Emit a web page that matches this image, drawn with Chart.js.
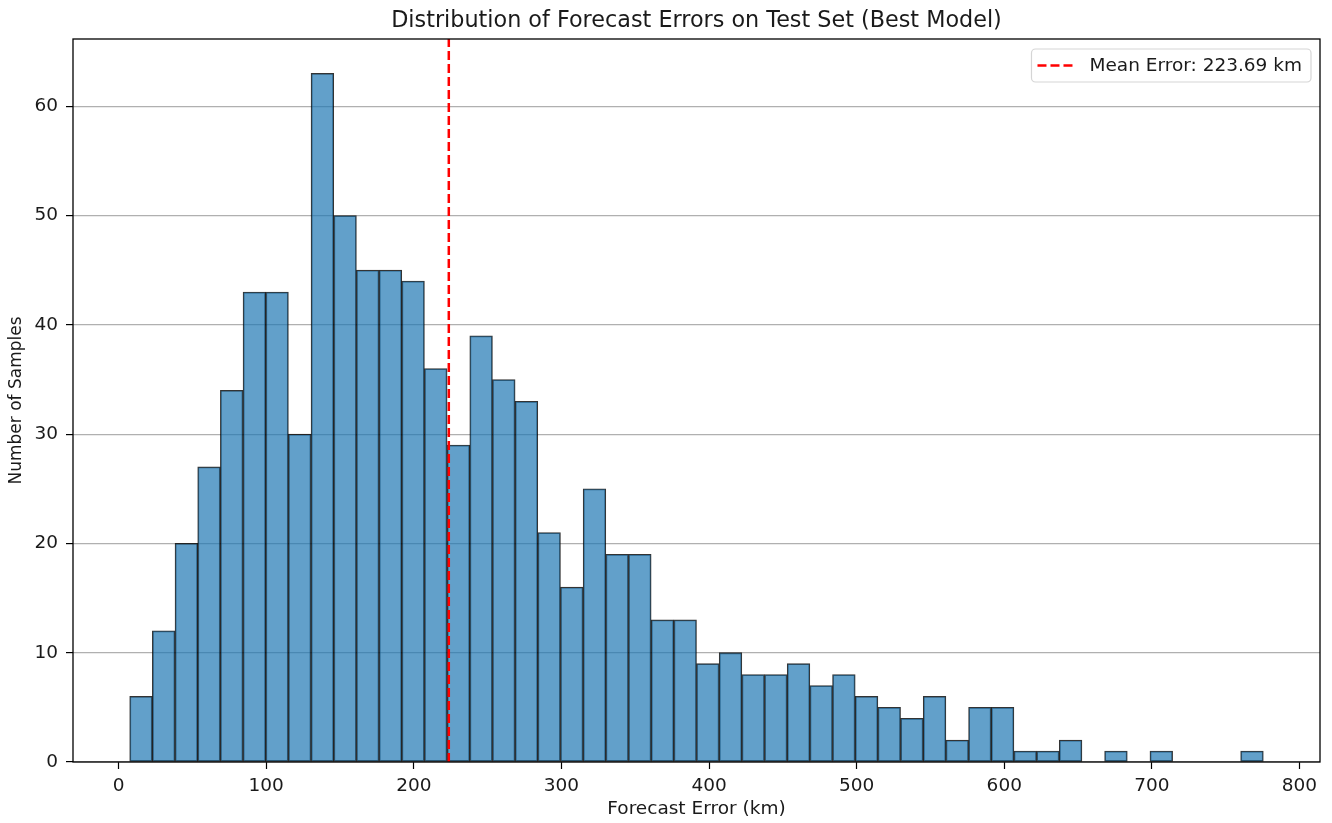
<!DOCTYPE html>
<html>
<head>
<meta charset="utf-8">
<title>Forecast Errors</title>
<script src="https://cdn.jsdelivr.net/npm/chart.js@4.4.1/dist/chart.umd.min.js"></script>
<style>
  html, body { margin: 0; padding: 0; background: #fff; }
  #wrap { width: 1332px; height: 823px; }
</style>
</head>
<body>
<div id="wrap"><canvas id="chart" width="1332" height="823"></canvas></div>
<script>
// histogram bins (50 equal bins) and counts
const binMin = 7.5;
const binMax = 775.5;
const counts = [6, 12, 20, 27, 34, 43, 43, 30, 63, 50,
                45, 45, 44, 36, 29, 39, 35, 33, 21, 16,
                25, 19, 19, 13, 13, 9, 10, 8, 8, 9,
                7, 8, 6, 5, 4, 6, 2, 5, 5, 1,
                1, 2, 0, 1, 0, 1, 0, 0, 0, 1];
const meanError = 223.69;
const xTicks = [0, 100, 200, 300, 400, 500, 600, 700, 800];
const yTicks = [0, 10, 20, 30, 40, 50, 60];

const titleText = "Distribution of Forecast Errors on Test Set (Best Model)";
const xLabel = "Forecast Error (km)";
const yLabel = "Number of Samples";
const legendText = "Mean Error: " + meanError.toFixed(2) + " km";

const FONT = "'DejaVu Sans', sans-serif";
const TEXT = "#1a1a1a";

const binWidth = (binMax - binMin) / counts.length;
const histData = counts.map((c, i) => ({ x: binMin + (i + 0.5) * binWidth, y: c }));
const yMax = Math.max(...counts) * 1.05;
const xPad = (binMax - binMin) * 0.05;

// title, frame and legend drawn by hand (matplotlib style)
const decor = {
    id: "decor",
    afterDraw(chart) {
        const { ctx, chartArea: a } = chart;
        ctx.save();
        // title
        ctx.fillStyle = TEXT;
        ctx.font = "22.3px " + FONT;
        ctx.textAlign = "center";
        ctx.textBaseline = "middle";
        ctx.fillText(titleText, (a.left + a.right) / 2, 21);
        // frame
        ctx.strokeStyle = "#000";
        ctx.lineWidth = 1.3;
        ctx.strokeRect(a.left, a.top, a.right - a.left, a.bottom - a.top);
        // legend
        ctx.font = "18.5px " + FONT;
        const tw = ctx.measureText(legendText).width;
        const w = tw + 67, h = 33;
        const x0 = a.right - 9 - w, y0 = a.top + 10;
        ctx.beginPath();
        ctx.roundRect(x0, y0, w, h, 4);
        ctx.fillStyle = "rgba(255,255,255,0.8)";
        ctx.fill();
        ctx.strokeStyle = "#d5d5d5";
        ctx.lineWidth = 1.2;
        ctx.stroke();
        ctx.beginPath();
        ctx.setLineDash([9, 4]);
        ctx.strokeStyle = "red";
        ctx.lineWidth = 2.5;
        ctx.moveTo(x0 + 6, y0 + h / 2);
        ctx.lineTo(x0 + 43, y0 + h / 2);
        ctx.stroke();
        ctx.setLineDash([]);
        ctx.fillStyle = TEXT;
        ctx.textAlign = "left";
        ctx.fillText(legendText, x0 + 58, y0 + h / 2 + 1);
        ctx.restore();
    }
};

new Chart(document.getElementById("chart"), {
    type: "bar",
    data: {
        datasets: [
            {
                type: "line",
                label: legendText,
                data: [{ x: meanError, y: 0 }, { x: meanError, y: yMax }],
                borderColor: "red",
                borderWidth: 2.5,
                borderDash: [9, 4],
                pointRadius: 0,
                fill: false,
                order: 0
            },
            {
                label: "Errors",
                data: histData,
                backgroundColor: "rgba(31, 119, 180, 0.7)",
                borderColor: "rgba(0, 0, 0, 0.8)",
                borderWidth: 1.1,
                borderSkipped: false,
                barPercentage: 1,
                categoryPercentage: 1,
                order: 1
            }
        ]
    },
    options: {
        responsive: false,
        animation: false,
        layout: { padding: { top: 39, right: 12, bottom: 0, left: 0 } },
        plugins: {
            legend: { display: false },
            tooltip: { enabled: false },
            title: { display: false }
        },
        scales: {
            x: {
                type: "linear",
                offset: false,
                min: binMin - xPad,
                max: binMax + xPad,
                afterBuildTicks: s => { s.ticks = xTicks.map(v => ({ value: v })); },
                afterFit: s => { s.height = 61; },
                border: { display: false },
                grid: { offset: false, drawOnChartArea: false, drawTicks: true, tickLength: 7, tickColor: "#000", tickWidth: 1.2 },
                ticks: { color: TEXT, font: { family: FONT, size: 18.5 }, padding: 6, maxRotation: 0 },
                title: { display: true, text: xLabel, color: TEXT, font: { family: FONT, size: 18.5 }, padding: { top: 0, bottom: 3 } }
            },
            y: {
                min: 0,
                max: yMax,
                afterBuildTicks: s => { s.ticks = yTicks.map(v => ({ value: v })); },
                afterFit: s => { s.width = 73; },
                border: { display: false },
                grid: { color: "#b0b0b0", lineWidth: 1.2, drawTicks: true, tickLength: 7, tickColor: "#000", tickWidth: 1.2 },
                ticks: { color: TEXT, font: { family: FONT, size: 18.5 }, padding: 8 },
                title: { display: true, text: yLabel, color: TEXT, font: { family: FONT, size: 17 }, padding: { top: 6, bottom: 0 } }
            }
        }
    },
    plugins: [decor]
});
</script>
</body>
</html>
